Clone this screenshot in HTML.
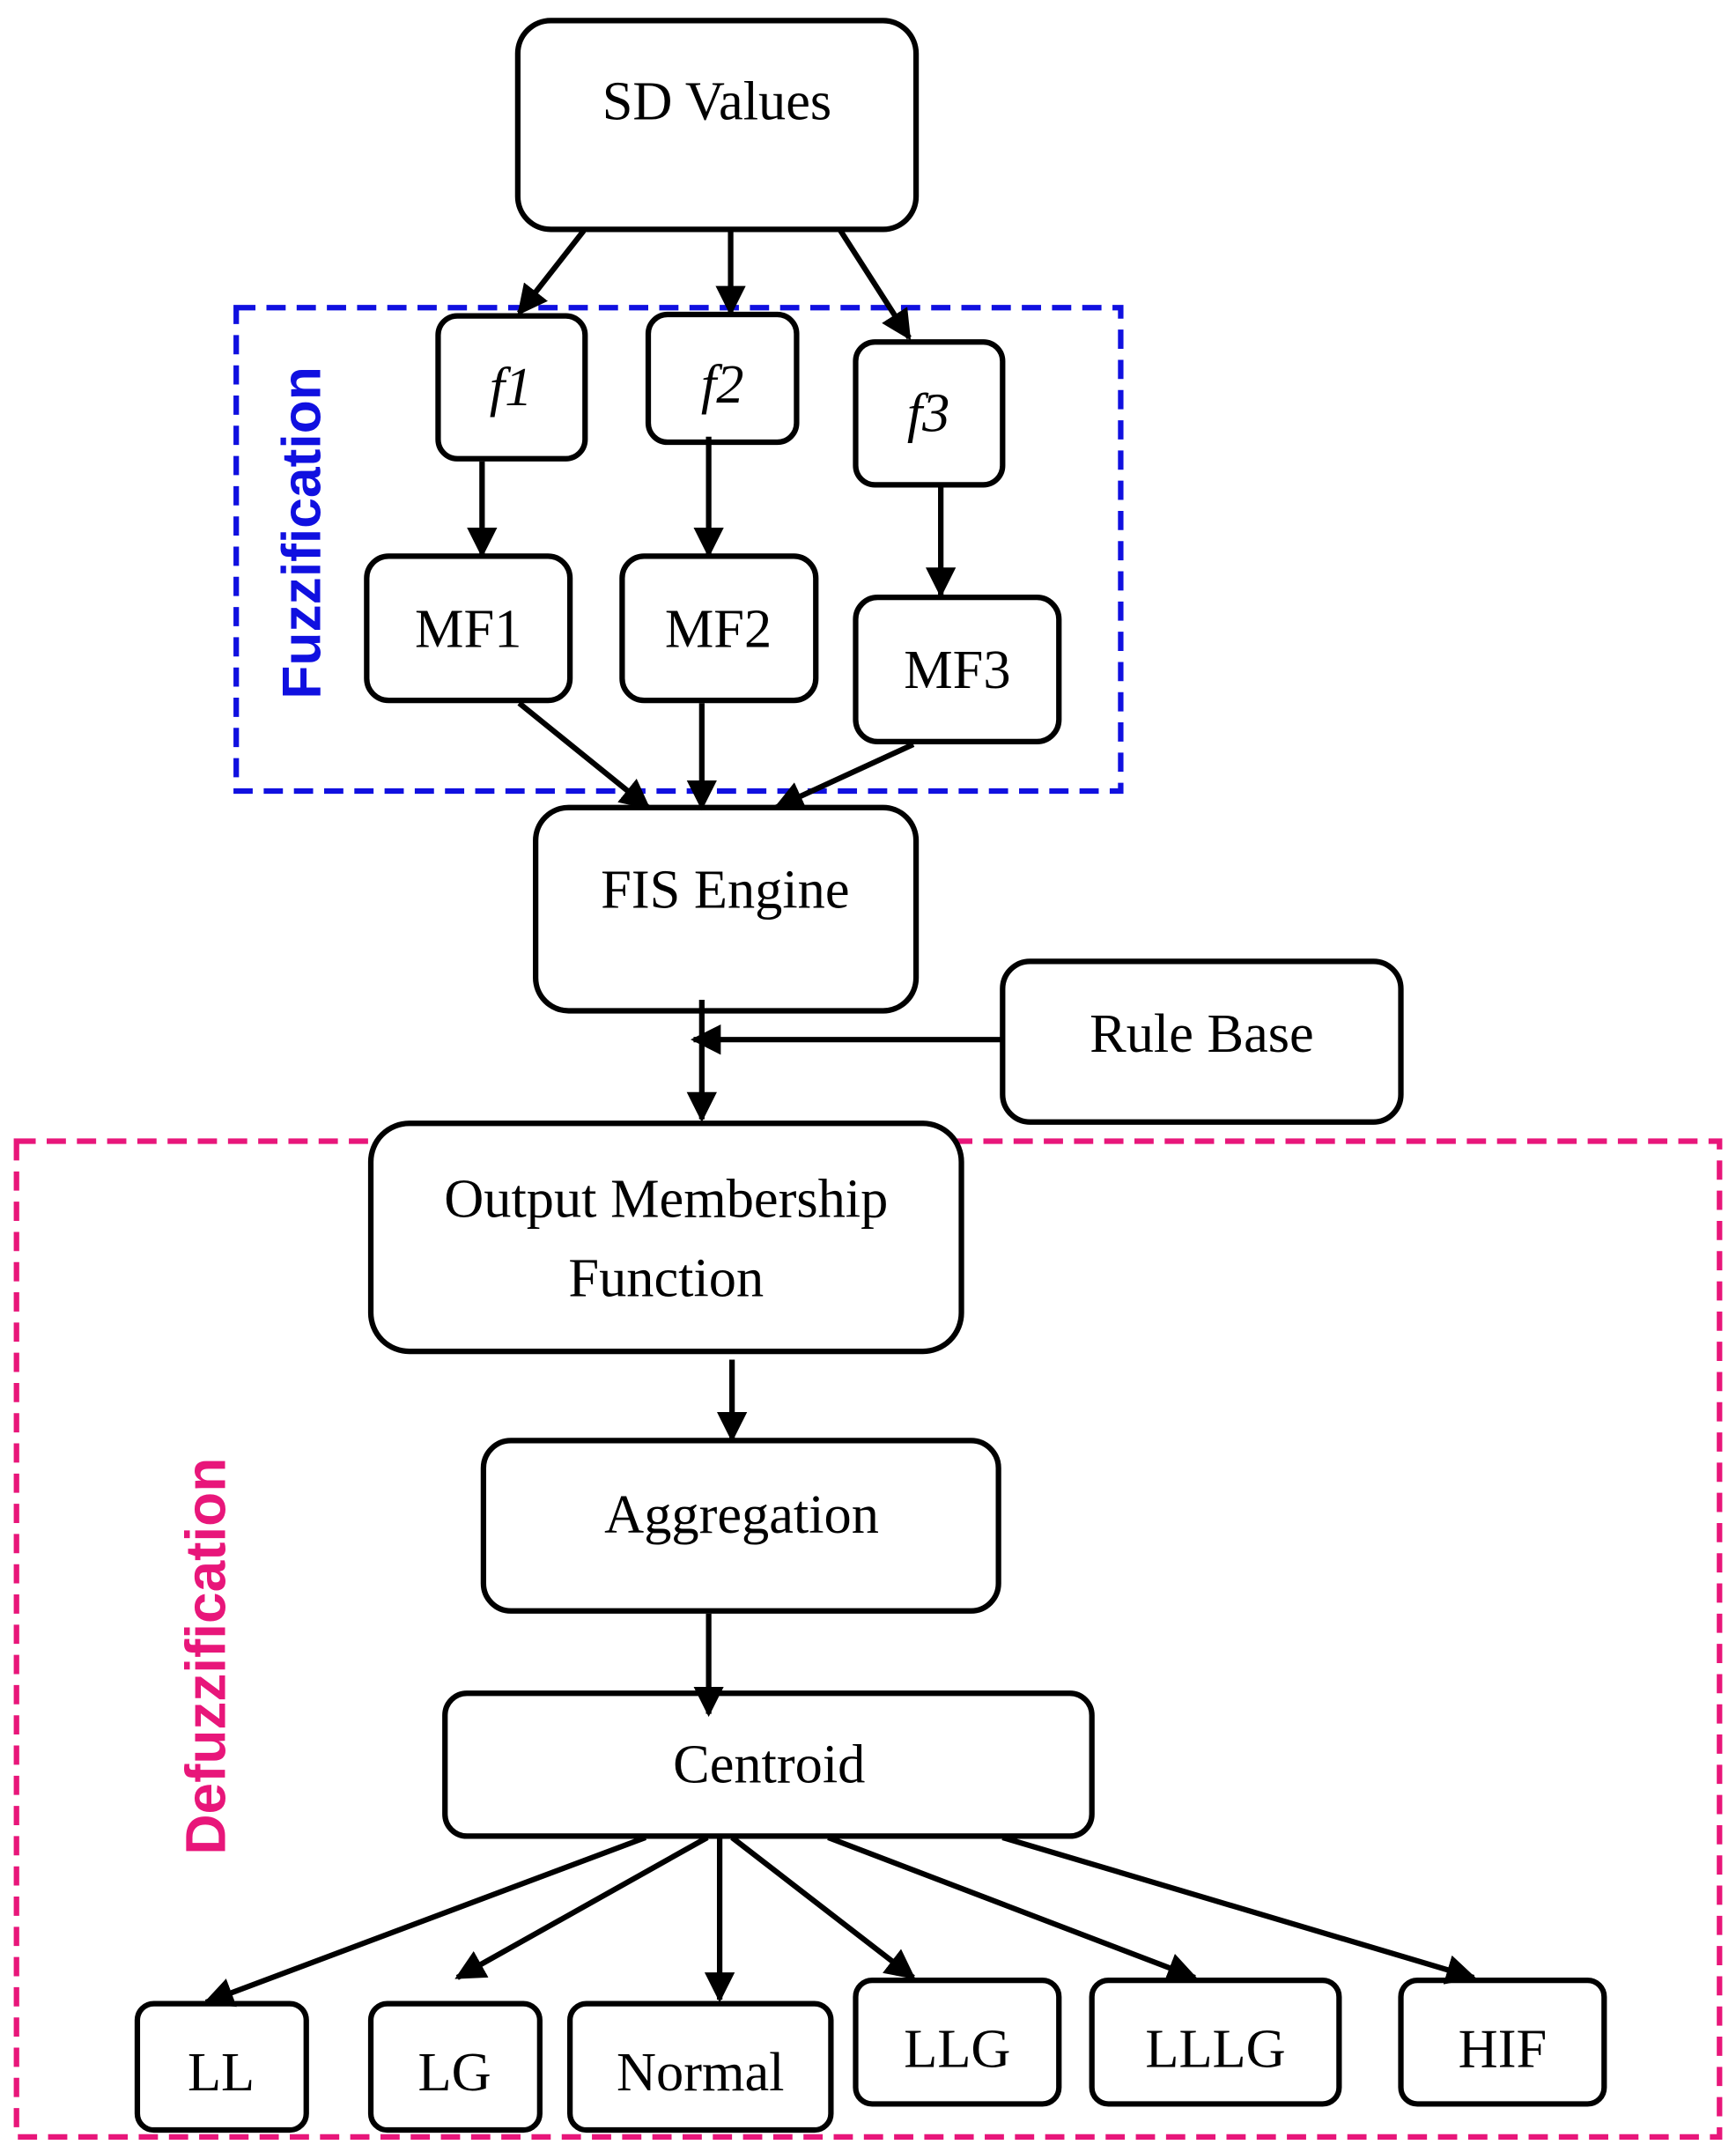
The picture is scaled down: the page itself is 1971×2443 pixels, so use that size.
<!DOCTYPE html>
<html><head><meta charset="utf-8"><style>html,body{margin:0;padding:0;background:#fff}svg{display:block}</style></head>
<body>
<svg width="1971" height="2443" viewBox="0 0 1264 1567" preserveAspectRatio="none" xmlns="http://www.w3.org/2000/svg">
<defs>
<marker id="a" viewBox="0 0 10 10" refX="9" refY="5" markerWidth="5.5" markerHeight="5.5" orient="auto" markerUnits="strokeWidth">
<path d="M0,0 L10,5 L0,10 z" fill="#000"/></marker>
</defs>
<rect x="172" y="224" width="644" height="352" fill="none" stroke="#1010e0" stroke-width="4" stroke-dasharray="14 8"/>
<rect x="12" y="831" width="1240" height="725" fill="none" stroke="#e8167a" stroke-width="4" stroke-dasharray="14 8"/>
<text transform="translate(233,388) rotate(-90)" text-anchor="middle" font-family="Liberation Sans, sans-serif" font-weight="bold" font-size="40" fill="#1010e0">Fuzzification</text>
<text transform="translate(164,1206) rotate(-90)" text-anchor="middle" font-family="Liberation Sans, sans-serif" font-weight="bold" font-size="41" fill="#e8167a">Defuzzification</text>
<g fill="#fff" stroke="#000" stroke-width="4">
<rect x="377" y="15" width="290" height="152" rx="24"/>
<rect x="319" y="230" width="107" height="104" rx="14"/>
<rect x="472" y="229" width="108" height="93" rx="14"/>
<rect x="623" y="249" width="107" height="104" rx="14"/>
<rect x="267" y="405" width="148" height="105" rx="16"/>
<rect x="453" y="405" width="141" height="105" rx="16"/>
<rect x="623" y="435" width="148" height="105" rx="16"/>
<rect x="390" y="588" width="277" height="148" rx="24"/>
<rect x="730" y="700" width="290" height="117" rx="20"/>
<rect x="270" y="818" width="430" height="166" rx="28"/>
<rect x="352" y="1049" width="375" height="124" rx="20"/>
<rect x="324" y="1233" width="471" height="104" rx="16"/>
<rect x="100" y="1459" width="123" height="92" rx="12"/>
<rect x="270" y="1459" width="123" height="92" rx="12"/>
<rect x="415" y="1459" width="190" height="92" rx="12"/>
<rect x="623" y="1442" width="148" height="90" rx="12"/>
<rect x="795" y="1442" width="180" height="90" rx="12"/>
<rect x="1020" y="1442" width="148" height="90" rx="12"/>
</g>
<g stroke="#000" stroke-width="4" fill="none" marker-end="url(#a)">
<line x1="425" y1="168" x2="378" y2="228"/>
<line x1="532" y1="168" x2="532" y2="228"/>
<line x1="612" y1="168" x2="662" y2="246"/>
<line x1="351" y1="336" x2="351" y2="404"/>
<line x1="516" y1="318" x2="516" y2="404"/>
<line x1="685" y1="354" x2="685" y2="433"/>
<line x1="378" y1="512" x2="472" y2="588"/>
<line x1="511" y1="512" x2="511" y2="588"/>
<line x1="665" y1="542" x2="565" y2="588"/>
<line x1="511" y1="728" x2="511" y2="815"/>
<line x1="730" y1="757" x2="505" y2="757"/>
<line x1="533" y1="990" x2="533" y2="1048"/>
<line x1="516" y1="1175" x2="516" y2="1248"/>
<line x1="470" y1="1338" x2="150" y2="1458"/>
<line x1="515" y1="1338" x2="333" y2="1440"/>
<line x1="524" y1="1338" x2="524" y2="1456"/>
<line x1="533" y1="1338" x2="665" y2="1440"/>
<line x1="603" y1="1338" x2="870" y2="1440"/>
<line x1="730" y1="1338" x2="1073" y2="1440"/>
</g>
<g font-family="Liberation Serif, serif" font-size="40" text-anchor="middle" fill="#000">
<text x="522" y="87">SD Values</text>
<text x="372" y="295" font-style="italic">f1</text>
<text x="526" y="293" font-style="italic">f2</text>
<text x="676" y="314" font-style="italic">f3</text>
<text x="341" y="471">MF1</text>
<text x="523" y="471">MF2</text>
<text x="697" y="501">MF3</text>
<text x="528" y="661">FIS Engine</text>
<text x="875" y="766">Rule Base</text>
<text x="485" y="886">Output Membership</text>
<text x="485" y="944">Function</text>
<text x="540" y="1116">Aggregation</text>
<text x="560" y="1298">Centroid</text>
<text x="161" y="1522">LL</text>
<text x="331" y="1522">LG</text>
<text x="510" y="1522">Normal</text>
<text x="697" y="1505">LLG</text>
<text x="885" y="1505">LLLG</text>
<text x="1094" y="1505">HIF</text>
</g>
</svg>
</body></html>
